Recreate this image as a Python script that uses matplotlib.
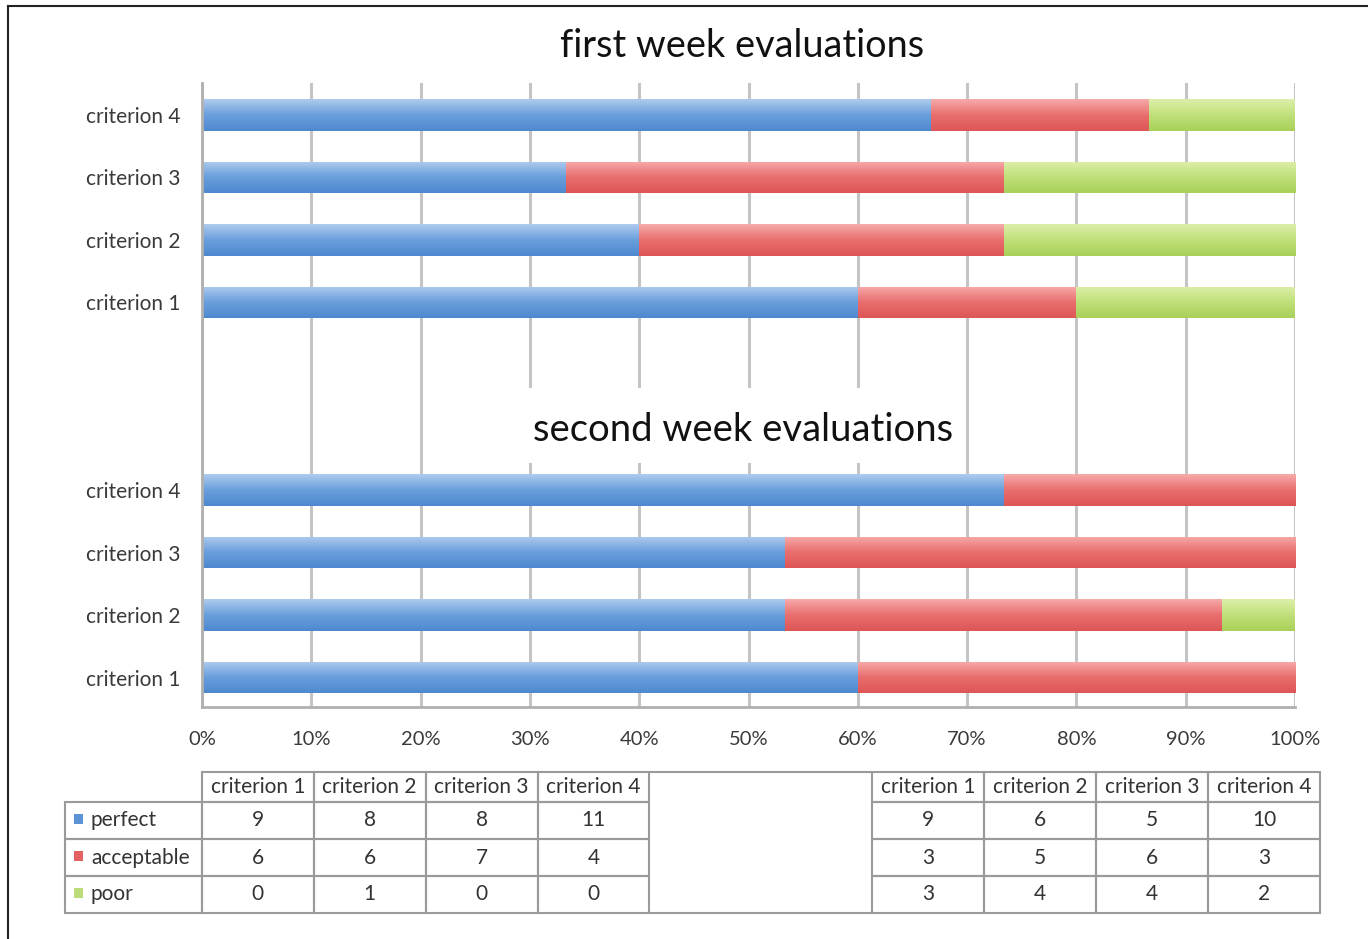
import numpy as np
import matplotlib
matplotlib.use('Agg')
import matplotlib.pyplot as plt
from matplotlib.colors import LinearSegmentedColormap
from matplotlib.patches import Rectangle
from matplotlib.lines import Line2D
from matplotlib.table import Table

plt.rcParams['font.family'] = ['Lato', 'DejaVu Sans']

# counts (table under the chart)
criteria = ['criterion 1', 'criterion 2', 'criterion 3', 'criterion 4']
levels = ['perfect', 'acceptable', 'poor']

week1_perfect = [9, 6, 5, 10]
week1_acceptable = [3, 5, 6, 3]
week1_poor = [3, 4, 4, 2]

week2_perfect = [9, 8, 8, 11]
week2_acceptable = [6, 6, 7, 4]
week2_poor = [0, 1, 0, 0]

xticks = [0, 10, 20, 30, 40, 50, 60, 70, 80, 90, 100]

# colours: (top light, middle, bottom)
shades = {
    'perfect': ['#aecbee', '#6a9fdc', '#4e88cf'],
    'acceptable': ['#f6aaaa', '#e96e6e', '#de5656'],
    'poor': ['#dcefaa', '#c0e07a', '#a9d05a'],
}
key_colors = {'perfect': '#5b93d6', 'acceptable': '#e46264', 'poor': '#bcdc7a'}

W, H = 1368, 939
fig = plt.figure(figsize=(W / 100, H / 100), dpi=100)
ax = fig.add_axes([202 / W, 1 - 707 / H, (1295 - 202) / W, (707 - 83) / H])


def shaded_barh(ypos, left, width, level):
    cmap = LinearSegmentedColormap.from_list(level, shades[level])
    grad = np.linspace(0, 1, 64).reshape(-1, 1)
    bars = ax.barh(ypos, width, left=left, height=0.5, color=shades[level][1],
                   edgecolor='none', zorder=2)
    for b in bars:
        x, y = b.get_x(), b.get_y()
        w, h = b.get_width(), b.get_height()
        if w <= 0:
            continue
        im = ax.imshow(grad, extent=(x, x + w, y + h, y), origin='upper',
                       cmap=cmap, aspect='auto', zorder=2.1,
                       interpolation='bicubic')
        im.set_clip_path(b)


def week_block(perfect, acceptable, poor, base):
    total = np.array(perfect) + np.array(acceptable) + np.array(poor)
    p = np.array(perfect) / total * 100
    a = np.array(acceptable) / total * 100
    q = np.array(poor) / total * 100
    ypos = base + 3 - np.arange(len(criteria))
    shaded_barh(ypos, 0, p, 'perfect')
    shaded_barh(ypos, p, a, 'acceptable')
    shaded_barh(ypos, p + a, q, 'poor')
    return ypos


y1 = week_block(week1_perfect, week1_acceptable, week1_poor, 0)
y2 = week_block(week2_perfect, week2_acceptable, week2_poor, 6)

ax.set_xlim(0, 100)
ax.set_ylim(9.47, -0.51)
ax.set_xticks(xticks)
ax.set_xticklabels([f'{t}%' for t in xticks])
ax.set_yticks(list(y1) + list(y2))
ax.set_yticklabels(criteria + criteria)
ax.tick_params(axis='both', length=0, labelcolor='#3a3a3a')
ax.tick_params(axis='x', pad=17, labelsize=14.5)
ax.tick_params(axis='y', pad=15.5, labelsize=15)
ax.grid(axis='x', color='#c4c4c4', linewidth=2.2, zorder=0)
ax.set_axisbelow(True)
for s in ['top', 'right']:
    ax.spines[s].set_visible(False)
for s in ['left', 'bottom']:
    ax.spines[s].set_color('#b0b0b0')
    ax.spines[s].set_linewidth(2)

# second title sits on a white box over the gridlines
ax.add_patch(Rectangle((29.6, 4.37), 39.6, 1.2, facecolor='white',
                       edgecolor='none', zorder=1))
ax.text(49.5, 5.04, 'second week evaluations', ha='center', va='center',
        fontsize=27.5, color='#111111', zorder=3)
fig.text(742 / W, 1 - 46 / H, 'first week evaluations', ha='center',
         va='center', fontsize=27.3, color='#111111')

# frame lines of the picture
fig.add_artist(Line2D([8 / W, 8 / W], [0, 1 - 6 / H], color='#222222', lw=1.5))
fig.add_artist(Line2D([8 / W, 1], [1 - 6 / H, 1 - 6 / H], color='#222222', lw=1.5))

# data table
tax = fig.add_axes([0, 0, 1, 1])
tax.set_xlim(0, 1)
tax.set_ylim(0, 1)
tax.axis('off')

col_w = 112 / W
gap_w = 223 / W
lab_w = 137 / W
head_h = 30 / H
row_h = 37 / H
edge = '#9a9a9a'

left_rows = [week2_perfect, week2_acceptable, week2_poor]
right_rows = [week1_perfect, week1_acceptable, week1_poor]

tbl = Table(tax, bbox=[202 / W, 1 - 913 / H, (1320 - 202) / W, 141 / H])
tbl.auto_set_font_size(False)
ncol = 9
for c in range(ncol):
    w = gap_w if c == 4 else col_w
    if c == 4:
        txt = ''
    else:
        txt = criteria[c if c < 4 else c - 5]
    cell = tbl.add_cell(0, c, w, head_h, text=txt, loc='center',
                        edgecolor=edge, facecolor='none')
    if c == 4:
        cell.visible_edges = 'T'
for r in range(3):
    lab = tbl.add_cell(r + 1, -1, lab_w, row_h, text=levels[r], loc='left',
                       edgecolor=edge, facecolor='none')
    lab.PAD = 26 / 137
    for c in range(ncol):
        w = gap_w if c == 4 else col_w
        if c < 4:
            txt = str(left_rows[r][c])
        elif c == 4:
            txt = ''
        else:
            txt = str(right_rows[r][c - 5])
        cell = tbl.add_cell(r + 1, c, w, row_h, text=txt, loc='center',
                            edgecolor=edge, facecolor='none')
        if c == 4:
            cell.visible_edges = 'B' if r == 2 else ''
for cell in tbl.get_celld().values():
    cell.set_linewidth(1.5)
    cell.get_text().set_fontsize(15)
    cell.get_text().set_color('#333333')
tax.add_table(tbl)

# legend keys inside the row labels
for r, lev in enumerate(levels):
    yc = 1 - (802 + row_h * H * (r + 0.5) - 2) / H
    tax.add_patch(Rectangle((74 / W, yc - 5 / H), 9 / W, 10 / H,
                            facecolor=key_colors[lev], edgecolor='none'))

fig.savefig('out.png', dpi=100, facecolor='white')
